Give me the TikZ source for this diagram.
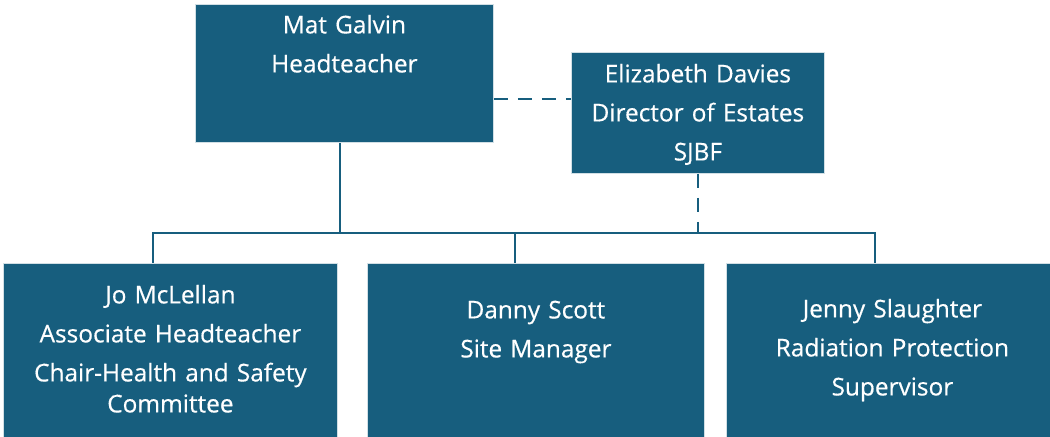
\documentclass[tikz,border=0pt]{standalone}
\usepackage{fontspec}
\setmainfont{Open Sans}[BoldFont=Open Sans,BoldFeatures={FakeBold=0.5}]
\usetikzlibrary{positioning,calc}
\definecolor{orgblue}{RGB}{23,94,126}

\begin{document}
\begin{tikzpicture}[x=0.5pt,y=-0.5pt,
    role/.style={fill=orgblue,draw=white!80!orgblue,line width=0.4pt,text=white,inner sep=0pt,
      anchor=north west,align=center,font=\fontsize{12.2}{15.5}\selectfont\bfseries},
    link/.style={draw=orgblue,line width=1.4pt},
    dashlink/.style={link,dash pattern=on 7pt off 5pt}]
      \useasboundingbox (0,0) rectangle (1050,437);

      \node[role,text width=149pt,text height=14.5pt,text depth=54.5pt] (mat) at (195,4)
        {Mat Galvin\\[4pt]Headteacher};
      \node[role,text width=126.5pt,text height=15pt,text depth=45.5pt] (eliz) at (571,52)
        {Elizabeth Davies\\[4pt]Director of Estates\\[4pt]SJBF};

      \node[role,text width=167pt,text height=20pt,text depth=70pt] (jo) at (3,263)
        {Jo McLellan\\[4pt]Associate Headteacher\\[4pt]Chair-Health and Safety\\Committee};
      \node[role,text width=168.5pt,text height=27.5pt,text depth=62.5pt] (danny) at (367,263)
        {Danny Scott\\[4pt]Site Manager};
      \node[role,text width=166pt,text height=27pt,text depth=63pt] (jenny) at (726,263)
        {Jenny Slaughter\\[4pt]Radiation Protection\\[4pt]Supervisor};

      % bus line under the headteacher
      \coordinate (busL) at (153,233);
      \coordinate (busT) at (340,233);
      \coordinate (busM) at (515,233);
      \coordinate (busR) at (875,233);
      \coordinate (tie) at (530,99);

      \draw[link] (busT |- mat.south) -- (busT);
      \draw[link] (busL |- jo.north) -- (busL) -- (busR) -- (busR |- jenny.north);
      \draw[link] (busM) -- (busM |- danny.north);

      \draw[dashlink] (tie -| mat.east) -- (tie -| eliz.west);
      \draw[dashlink] (eliz.south) -- (eliz.south |- busR);
\end{tikzpicture}
\end{document}
